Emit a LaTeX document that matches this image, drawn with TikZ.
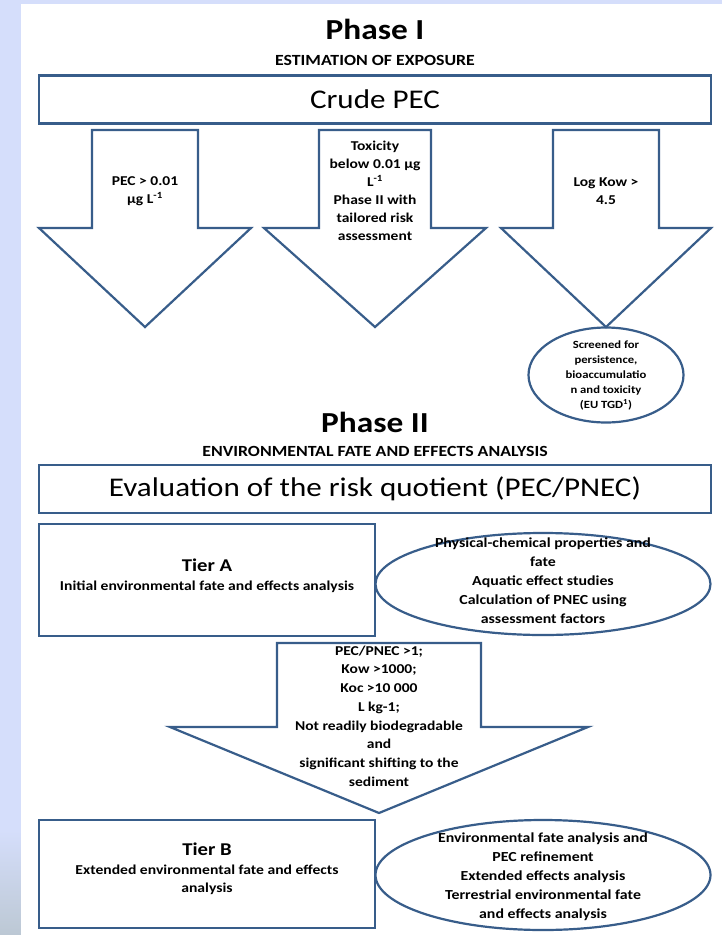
\documentclass[tikz,border=0pt]{standalone}
\usepackage{fontspec}
\setmainfont{Carlito}[FakeStretch=1.15]
\usepackage{xcolor}
\usetikzlibrary{shapes.geometric}

\definecolor{edgeblue}{RGB}{56,93,138}
\definecolor{slideblue}{RGB}{213,222,251}
\definecolor{slidegrey}{RGB}{188,200,212}

\begin{document}
\begin{tikzpicture}[
        x=1pt, y=-1pt,
        phasetitle/.style={font=\bfseries\fontsize{29}{33}\selectfont},
        phasesub/.style={font=\bfseries\fontsize{15.5}{18}\selectfont},
        bigbox/.style={rectangle, draw=edgeblue, line width=2.2pt, minimum width=672pt, minimum height=48pt, inner sep=0pt, font=\fontsize{27}{31}\selectfont},
        tierbox/.style={rectangle, draw=edgeblue, line width=2.2pt, minimum width=336pt, inner sep=0pt},
        oval/.style={ellipse, draw=edgeblue, line width=2.2pt, inner sep=0pt},
        blockarrow/.style={draw=edgeblue, line width=2.2pt, line join=miter},
        arrowtxt/.style={align=center, font=\bfseries\fontsize{13.5}{18}\selectfont},
        ovaltxt/.style={align=center, font=\bfseries\fontsize{13.8}{19}\selectfont},
        tiertxt/.style={align=center, font=\bfseries\fontsize{13.6}{18}\selectfont},
    ]

        % slide background
        \fill[slideblue] (0,0) rectangle (722,935);
        \shade[top color=slideblue, bottom color=slidegrey] (0,830) rectangle (21,935);
        \fill[white] (21,4) rectangle (722,935);

        % Phase I
        \node[phasetitle] (ph1) at (375,29) {Phase I};
        \node[phasesub] (ph1sub) at (375,60) {ESTIMATION OF EXPOSURE};
        \node[bigbox] (crude) at (375,99.5) {Crude PEC};

        \foreach \ax/\sw/\hw in {145/53/106, 375/56/111, 606/53/105}
            \draw[blockarrow] ({\ax-\sw},130) -- ({\ax+\sw},130) -- ({\ax+\sw},228) -- ({\ax+\hw},228)
                -- (\ax,327) -- ({\ax-\hw},228) -- ({\ax-\sw},228) -- cycle;

        \node[arrowtxt] (pec) at (145,191) {PEC > 0.01\\µg L\textsuperscript{-1}};
        \node[arrowtxt] (tox) at (375,191) {Toxicity\\below 0.01 µg\\L\textsuperscript{-1}\\Phase II with\\tailored risk\\assessment};
        \node[arrowtxt] (kow) at (606,191) {Log Kow >\\4.5};

        \node[oval, minimum width=155pt, minimum height=95pt] (screen) at (606,375) {};
        \node[align=center, font=\bfseries\fontsize{11}{15}\selectfont] (screentxt) at (screen) {Screened for\\persistence,\\bioaccumulatio\\n and toxicity\\(EU TGD\textsuperscript{1})};

        % Phase II
        \node[phasetitle] (ph2) at (375,422) {Phase II};
        \node[phasesub] (ph2sub) at (375,451) {ENVIRONMENTAL FATE AND EFFECTS ANALYSIS};
        \node[bigbox] (riskq) at (375,489) {Evaluation of the risk quotient (PEC/PNEC)};

        \node[tierbox, minimum height=112pt] (tierA) at (207,580) {};
        \node[tiertxt] (tierAtxt) at (207,576) {{\fontsize{18}{22}\selectfont Tier A}\\[1pt]Initial environmental fate and effects analysis};
        \node[oval, minimum width=335pt, minimum height=102pt] (ovalA) at (543,584) {};
        \node[ovaltxt] (ovalAtxt) at (543,581) {Physical-chemical properties and\\fate\\Aquatic effect studies\\Calculation of PNEC using\\assessment factors};

        \draw[blockarrow] (277,643) -- (481,643) -- (481,727) -- (588,727) -- (379,813) -- (170,727) -- (277,727) -- cycle;
        \node[arrowtxt, font=\bfseries\fontsize{13.5}{18.7}\selectfont] (crit) at (379,716) {PEC/PNEC >1;\\Kow >1000;\\Koc >10 000\\L kg-1;\\Not readily biodegradable\\and\\significant shifting to the\\sediment};

        \node[tierbox, minimum height=108pt] (tierB) at (207,874) {};
        \node[tiertxt] (tierBtxt) at (207,869) {{\fontsize{18}{22}\selectfont Tier B}\\[1pt]Extended environmental fate and effects\\analysis};
        \node[oval, minimum width=335pt, minimum height=110pt] (ovalB) at (543,875) {};
        \node[ovaltxt] (ovalBtxt) at (543,877) {Environmental fate analysis and\\PEC refinement\\Extended effects analysis\\Terrestrial environmental fate\\and effects analysis};

    \end{tikzpicture}
\end{document}
